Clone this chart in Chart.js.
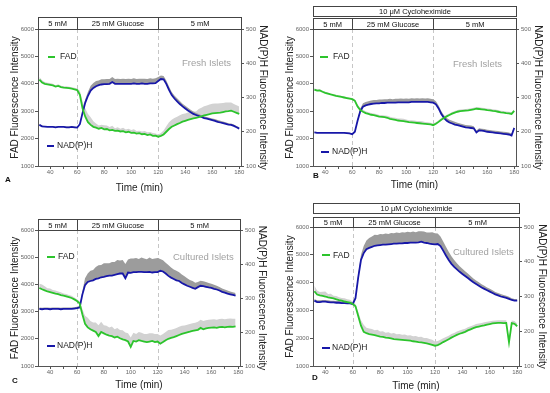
<!DOCTYPE html>
<html><head><meta charset="utf-8">
<script src="https://cdn.jsdelivr.net/npm/chart.js@4.4.1/dist/chart.umd.min.js"></script>
<style>
body{margin:0;width:550px;height:393px;background:#fff;position:relative;overflow:hidden;font-family:"Liberation Sans",Arial,sans-serif;}
.pane{position:absolute;}
canvas{display:block;}
.hdr{position:absolute;border:1px solid #444;box-sizing:border-box;background:#fff;will-change:transform;}
.cell{position:absolute;top:0;bottom:0;display:flex;align-items:center;justify-content:center;font-size:7.5px;color:#111;white-space:nowrap;box-sizing:border-box;}
.lbl{position:absolute;white-space:nowrap;line-height:1;will-change:transform;}
.seg{position:absolute;height:2px;}
</style></head>
<body>
<script>
// ---------- DATA ----------
const times = [32,34,36,38,40,42,44,46,48,50,52,54,56,58,60,62,64,66,68,70,72,74,76,78,80,82,84,86,88,90,92,94,96,98,100,102,104,106,108,110,112,114,116,118,120,122,124,126,128,130,132,134,136,138,140,142,144,146,148,150,152,154,156,158,160,162,164,166,168,170,172,174,176,178,180];
const xTicks = [40,60,80,100,120,140,160,180];
const glucoseSwitch = [60,120];
const glucoseLabels = ['5 mM','25 mM Glucose','5 mM'];
const drugLabel = '10 μM Cycloheximide';
const seriesNames = ['FAD','NAD(P)H'];
const panelNames = ['A','B','C','D'];
const islets = ['Fresh Islets','Fresh Islets','Cultured Islets','Cultured Islets'];

// Panel A (fresh islets)
const fadA = [4150,4050,4000,3980,3960,3940,3900,3920,3880,3860,3850,3840,3820,3800,3770,
 3600,3100,2800,2600,2500,2430,
 2400,2360,2390,2340,2350,2300,2320,2280,2290,2260,2270,2230,2250,2210,2220,2180,2200,2160,2170,2130,2150,2100,2110,2070,
 2100,2150,2250,2350,2430,2480,2530,2570,2620,2650,2680,2710,2740,2760,
 2780,2810,2850,2870,2890,2920,2930,2940,2950,2970,2990,3000,3020,2980,2940,2900];
const fadErrA = [100,80,70,60,70,60,50,60,50,50,60,50,50,60,60,
 150,250,300,300,280,200,
 150,120,120,150,130,120,150,100,120,100,130,100,110,100,120,100,90,100,110,100,90,100,80,80,
 100,150,200,250,260,270,270,280,280,270,270,260,250,230,
 300,320,330,340,350,350,350,340,340,330,330,320,300,280,280,270];
const nadA = [220,216,215,214,214,214,213,214,214,214,213,213,214,213,212,
 222,255,285,305,320,328,
 333,336,338,339,339,340,345,340,340,340,340,340,340,340,341,340,340,341,340,340,341,341,342,348,
 354,353,340,322,307,297,289,281,274,268,262,257,252,249,
 246,243,240,238,236,234,232,229,227,225,223,221,220,217,213,209];
const nadErrA = [3,2,2,2,2,2,2,2,2,2,2,2,2,2,2,
 3,6,10,12,14,14,
 15,14,15,14,15,14,15,14,15,14,15,14,15,14,15,14,15,14,15,14,15,14,14,12,
 10,10,10,10,9,9,9,9,8,8,8,7,7,6,
 6,5,5,5,5,5,5,5,5,5,5,4,4,4,4,4];

// Panel B (fresh islets + cycloheximide)
const fadB = [3790,3750,3760,3710,3670,3640,3610,3590,3560,3540,3520,3500,3480,3460,3440,
 3380,3170,3040,2980,2930,2900,
 2870,2860,2830,2800,2790,2780,2760,2720,2700,2680,2660,2650,2640,2620,2600,2590,2580,2570,2560,2550,2540,2530,2520,2490,
 2540,2610,2690,2750,2810,2860,2910,2950,2980,3000,3010,3020,3030,3050,
 3070,3090,3080,3070,3060,3040,3030,3010,3000,2980,2960,2950,2930,2920,2900,3010];
const fadErrB = [50,40,40,40,40,40,40,40,40,40,40,40,40,40,40,
 60,80,80,70,70,60,
 60,60,70,60,70,60,70,80,70,80,70,80,80,80,70,80,80,70,80,80,70,70,60,60,
 60,60,60,60,60,60,60,60,60,60,60,60,60,60,
 60,60,60,60,60,60,60,60,60,60,60,60,60,60,60,60];
const nadB = [198,197,197,197,197,197,197,197,197,197,197,197,196,195,193,
 200,232,260,273,277,279,
 281,282,283,283,284,284,285,285,285,285,286,286,286,286,286,287,287,287,287,287,287,287,286,285,
 280,268,252,240,232,227,224,221,219,217,215,213,212,211,
 210,198,204,203,202,200,199,198,197,196,195,194,193,192,189,211];
const nadErrB = [2,2,2,2,2,2,2,2,2,2,2,2,2,2,2,
 2,4,8,10,10,10,
 10,11,10,11,10,11,10,11,10,11,10,11,10,11,10,11,10,11,10,11,10,11,10,10,
 9,9,8,8,8,8,8,8,7,7,7,7,7,7,
 6,6,6,6,6,6,6,6,6,6,6,6,6,6,6,6];

// Panel C (cultured islets)
const fadC = [3870,3820,3780,3740,3720,3690,3660,3640,3610,3590,3560,3530,3500,3450,3390,
 3300,2900,2550,2420,2350,2300,
 2250,2100,2250,2200,2150,2120,2100,2050,2080,2020,1980,1950,1900,1700,1920,1900,1950,1920,1900,1880,1900,1920,1880,1900,
 1820,1880,1950,2000,2030,2060,2100,2140,2180,2210,2240,2260,2290,2310,
 2330,2400,2350,2380,2400,2410,2420,2400,2430,2440,2420,2440,2450,2440,2460];
const fadErrC = [150,180,150,120,130,100,120,100,100,80,90,80,80,70,60,
 80,200,300,350,300,300,
 350,400,380,300,330,300,350,300,320,300,330,280,300,350,300,280,300,300,280,300,300,280,300,280,
 300,300,300,320,300,300,300,300,300,280,280,280,280,280,
 300,300,300,300,300,300,300,300,300,300,300,300,300,300,280];
const nadC = [268,267,268,268,267,268,268,268,267,268,268,268,268,269,270,
 272,310,338,347,350,352,
 356,358,361,362,364,366,366,368,370,372,372,358,375,374,376,376,377,377,376,376,377,375,376,376,
 380,378,372,365,360,356,352,350,344,340,336,333,330,327,
 332,336,335,333,331,330,327,325,322,318,316,313,311,309,307];
const nadErrC = [4,4,4,4,4,4,4,4,4,4,4,4,4,4,4,
 5,10,20,25,30,30,
 35,38,36,40,38,36,40,38,42,38,40,42,38,42,40,42,38,42,40,38,42,40,40,42,
 35,33,32,32,30,28,28,26,25,24,22,20,20,18,
 15,15,14,14,13,12,12,11,10,10,9,9,8,8,8];

// Panel D (cultured islets + cycloheximide)
const fadD = [3690,3570,3540,3520,3500,3470,3450,3430,3400,3370,3350,3320,3300,3280,3230,
 3150,2800,2450,2230,2180,2150,
 2130,2110,2080,2060,2050,2020,2010,1990,1970,1960,1950,1940,1930,1920,1910,1890,1880,1860,1850,1830,1810,1790,1760,1730,
 1750,1800,1860,1910,1960,2020,2070,2120,2160,2190,2230,2280,2320,2360,
 2400,2420,2440,2460,2490,2510,2530,2540,2550,2550,2545,2550,1850,2540,2520,2430];
const fadErrD = [200,150,120,150,180,120,150,100,120,100,100,120,100,100,80,
 80,150,200,250,200,200,
 200,180,220,180,200,180,200,180,220,180,200,180,200,180,200,180,200,180,200,180,200,180,180,150,
 150,140,140,130,130,130,120,120,120,120,110,110,110,110,
 110,110,110,110,100,100,100,100,100,100,100,100,100,100,100,100];
const nadD = [288,284,284,285,285,284,283,283,282,282,281,281,280,280,278,
 295,355,405,425,436,440,
 443,446,447,448,449,449,450,451,452,452,453,453,454,454,455,455,455,456,458,455,454,452,451,450,
 451,445,432,418,405,394,385,378,371,365,359,353,347,341,
 336,331,326,322,318,314,310,306,303,300,298,296,293,290,288,288];
const nadErrD = [5,5,5,5,5,5,5,5,5,5,5,5,5,4,4,
 4,8,15,20,25,28,
 30,32,30,32,30,32,30,32,30,32,30,32,30,32,30,32,30,32,30,32,30,32,34,32,
 30,28,26,25,24,22,20,18,16,15,14,13,12,11,
 10,10,9,9,8,8,8,7,7,7,6,6,6,5,5,5];

// ---------- STYLE / LAYOUT ----------
const GREEN = '#2cc42c', BLUE = '#1717a8', FADBAND = '#d2d2d2', NADBAND = '#9c9c9c', AXIS = '#555';
Chart.defaults.font.family = "'Liberation Sans', Arial, sans-serif";

const panels = [
  {x:0,   y:0,   w:275, h:196, fad:fadA, fadErr:fadErrA, nad:nadA, nadErr:nadErrA, padTop:29, yW:38, y2W:34, xH:30, yPad:9, y2Pad:6, xPad:2,
   rows:[{top:17,h:13}], letter:[5,180], leg:[[48,55,57,60],[47,54,145.7,57]], note:[181.7,63.3]},
  {x:275, y:0,   w:275, h:196, fad:fadB, fadErr:fadErrB, nad:nadB, nadErr:nadErrB, padTop:29, yW:38, y2W:34, xH:30, yPad:9, y2Pad:6, xPad:5,
   rows:[{top:6,h:11,single:true},{top:18,h:12}], letter:[313,176.5], leg:[[320,328,56.7,333],[321,329,151.7,332]], note:[453.3,64.3]},
  {x:0,   y:196, w:275, h:197, fad:fadC, fadErr:fadErrC, nad:nadC, nadErr:nadErrC, padTop:34, yW:38, y2W:35, xH:27, yPad:9, y2Pad:7, xPad:2,
   rows:[{top:23,h:12}], letter:[12,381], leg:[[47,55,257,58.3],[47,55,346,57.3]], note:[172.7,257.7]},
  {x:275, y:196, w:275, h:197, fad:fadD, fadErr:fadErrD, nad:nadD, nadErr:nadErrD, padTop:31, yW:38, y2W:31, xH:27, yPad:9, y2Pad:2, xPad:1,
   rows:[{top:7,h:11,single:true},{top:21,h:11}], letter:[312,378], leg:[[321.7,330,255.3,333.3],[321.7,330,347.7,332.3]], note:[453.3,252.7]}
];

const framePlugin = {
  id:'frame',
  beforeDatasetsDraw(chart){
    const {ctx, chartArea:ca, scales:{x}} = chart;
    ctx.save();
    ctx.strokeStyle = '#c6c6c6'; ctx.lineWidth = 1; ctx.setLineDash([4,3]);
    glucoseSwitch.forEach(v=>{
      const px = Math.round(x.getPixelForValue(v)) + 0.5;
      ctx.beginPath(); ctx.moveTo(px, ca.top); ctx.lineTo(px, ca.bottom); ctx.stroke();
    });
    ctx.restore();
  },
  afterDraw(chart){
    const {ctx, chartArea:ca} = chart;
    ctx.save(); ctx.strokeStyle = AXIS; ctx.lineWidth = 1;
    const py = Math.round(ca.top) + 0.5;
    ctx.beginPath(); ctx.moveTo(ca.left, py); ctx.lineTo(ca.right+1, py); ctx.stroke();
    ctx.restore();
  }
};

function addText(x, yc, text, size, color, weight){
  const d = document.createElement('div'); d.className='lbl';
  d.textContent = text;
  d.style.left = x+'px'; d.style.top = (yc - size*0.55)+'px';
  d.style.fontSize = size+'px'; d.style.color = color;
  if (weight) d.style.fontWeight = weight;
  document.body.appendChild(d);
}
function addSeg(x1, x2, y, color){
  const s = document.createElement('div'); s.className='seg';
  s.style.left = x1+'px'; s.style.width = (x2-x1)+'px'; s.style.top = (y-1)+'px'; s.style.background = color;
  document.body.appendChild(s);
}

panels.forEach((p, k)=>{
  const pane = document.createElement('div'); pane.className='pane';
  pane.style.cssText = `left:${p.x}px;top:${p.y}px;width:${p.w}px;height:${p.h}px;`;
  const cv = document.createElement('canvas');
  cv.width = p.w; cv.height = p.h; cv.style.width = p.w+'px'; cv.style.height = p.h+'px';
  pane.appendChild(cv); document.body.appendChild(pane);

  const n = p.fad.length;
  const t = times.slice(0, n);
  const pts = arr => arr.map((v,i)=>({x:t[i], y:v}));
  const upper = (arr, err) => arr.map((v,i)=>({x:t[i], y:v+err[i]}));

  const chart = new Chart(cv, {
    type:'line',
    data:{datasets:[
      {label:seriesNames[0], data:pts(p.fad), yAxisID:'y', borderColor:GREEN, borderWidth:1.8, pointRadius:0, tension:0, fill:false, order:0},
      {label:seriesNames[1], data:pts(p.nad), yAxisID:'y2', borderColor:BLUE, borderWidth:1.8, pointRadius:0, tension:0, fill:false, order:0},
      {label:'FAD SEM', data:upper(p.fad, p.fadErr), yAxisID:'y', borderWidth:0, borderColor:'rgba(0,0,0,0)', backgroundColor:FADBAND, pointRadius:0, tension:0, fill:{target:0}, order:2},
      {label:'NAD SEM', data:upper(p.nad, p.nadErr), yAxisID:'y2', borderWidth:0, borderColor:'rgba(0,0,0,0)', backgroundColor:NADBAND, pointRadius:0, tension:0, fill:{target:1}, order:1}
    ]},
    options:{
      responsive:false, animation:false, devicePixelRatio:1, events:[],
      layout:{padding:{top:p.padTop, left:0, right:0, bottom:0}},
      plugins:{legend:{display:false}, tooltip:{enabled:false}},
      scales:{
        x:{type:'linear', min:31, max:181.3,
           ticks:{stepSize:10, includeBounds:false, autoSkip:false, maxRotation:0, font:{size:6}, color:'#666', padding:0,
                  callback:v=> xTicks.includes(v) ? String(v) : ''},
           grid:{drawOnChartArea:false, drawTicks:true, tickLength:3, color:AXIS},
           border:{display:true, color:AXIS, width:1},
           title:{display:true, text:'Time (min)', font:{size:10}, color:'#222', padding:{top:0, bottom:p.xPad}},
           afterFit(s){ s.height = p.xH; }},
        y:{position:'left', min:1000, max:6000,
           ticks:{stepSize:1000, font:{size:6}, color:'#666', padding:1, callback:v=>String(v)},
           grid:{drawOnChartArea:false, drawTicks:true, tickLength:3, color:AXIS},
           border:{display:true, color:AXIS, width:1},
           title:{display:true, text:'FAD Fluorescence Intensity', font:{size:10}, color:'#222', padding:{top:p.yPad, bottom:0}},
           afterFit(s){ s.width = p.yW; }},
        y2:{position:'right', min:100, max:500,
           ticks:{stepSize:100, font:{size:6}, color:'#666', padding:2, callback:v=>String(v)},
           grid:{drawOnChartArea:false, drawTicks:true, tickLength:3, color:AXIS},
           border:{display:true, color:AXIS, width:1},
           title:{display:true, text:'NAD(P)H Fluorescence Intensity', font:{size:10}, color:'#222', padding:{top:p.y2Pad, bottom:0}},
           afterFit(s){ s.width = p.y2W; }}
      }
    },
    plugins:[framePlugin]
  });

  // condition header boxes
  const ca = chart.chartArea, xs = chart.scales.x;
  p.rows.forEach(r=>{
    const d = document.createElement('div'); d.className='hdr';
    d.style.left = ca.left+'px'; d.style.top = r.top+'px';
    d.style.width = (ca.right - ca.left + 1)+'px'; d.style.height = r.h+'px';
    pane.appendChild(d);
    if (r.single){
      const c = document.createElement('div'); c.className='cell';
      c.style.left='0px'; c.style.right='0px'; c.textContent = drugLabel; d.appendChild(c);
    } else {
      const edges = [ca.left, Math.round(xs.getPixelForValue(glucoseSwitch[0])), Math.round(xs.getPixelForValue(glucoseSwitch[1])), ca.right];
      for (let i=0;i<3;i++){
        const c = document.createElement('div'); c.className='cell';
        c.style.left = (edges[i]-ca.left-1)+'px';
        c.style.width = (edges[i+1]-edges[i])+'px';
        if (i>0) c.style.borderLeft = '1px solid #444';
        c.textContent = glucoseLabels[i];
        d.appendChild(c);
      }
    }
  });

  // legend, annotation, panel letter
  addSeg(p.leg[0][0], p.leg[0][1], p.leg[0][2], GREEN);
  addText(p.leg[0][3], p.leg[0][2], seriesNames[0], 8.5, '#222');
  addSeg(p.leg[1][0], p.leg[1][1], p.leg[1][2], BLUE);
  addText(p.leg[1][3], p.leg[1][2], seriesNames[1], 8.5, '#222');
  addText(p.note[0], p.note[1], islets[k], 9.5, '#a2a2a2');
  addText(p.letter[0], p.letter[1], panelNames[k], 8, '#111', 'bold');
});
</script>
</body></html>
